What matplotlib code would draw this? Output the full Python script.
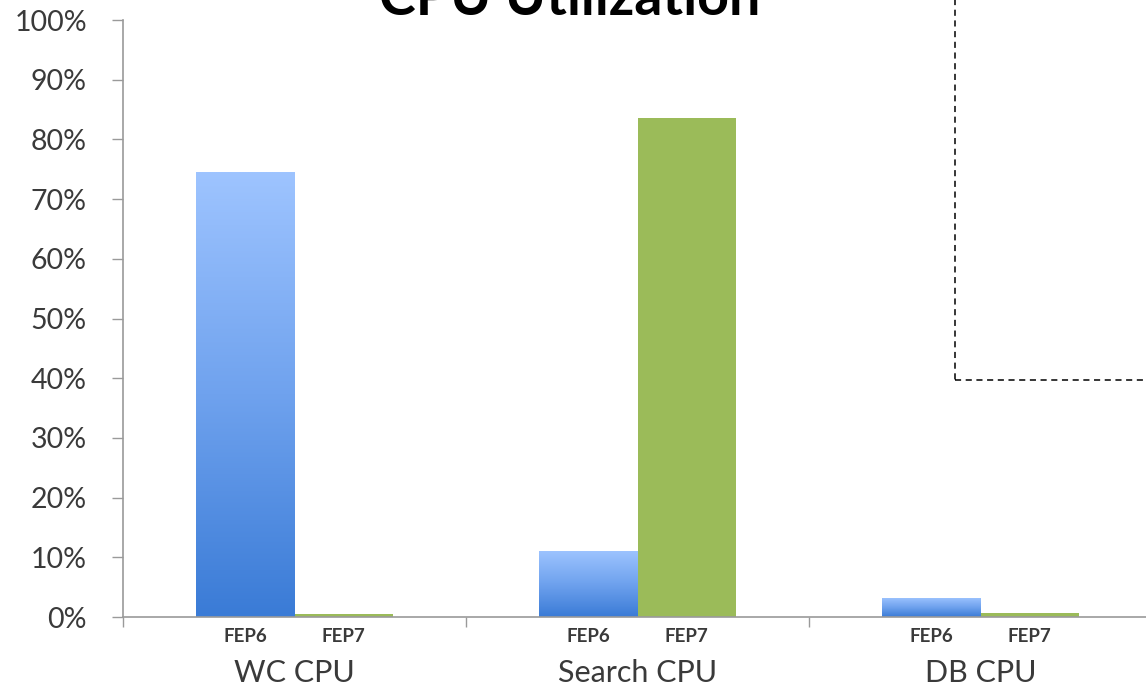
import matplotlib
matplotlib.use('agg')
import matplotlib.pyplot as plt
from matplotlib.patches import Rectangle
from matplotlib.colors import LinearSegmentedColormap
import matplotlib.transforms as mtransforms
import numpy as np

groups = ['WC CPU', 'Search CPU', 'DB CPU']
series = ['FEP6', 'FEP7']
fep6 = [74.5, 11.1, 3.2]
fep7 = [0.5, 83.6, 0.7]
yticks = np.arange(0, 101, 10)

plt.rcParams['font.family'] = ['Lato', 'DejaVu Sans']
text_col = '#3a3a3a'
axis_col = '#9a9a9a'

fig = plt.figure(figsize=(11.46, 6.89), dpi=100)
ax = fig.add_axes([123 / 1146, 72 / 689, 1029 / 1146, 597 / 689])

xs = np.arange(len(groups))
w = 0.287
blue = LinearSegmentedColormap.from_list('fep6', ['#3a7bd6', '#6fa2ee', '#9ec4ff'])

bars6 = ax.bar(xs - w / 2, fep6, w, color='none', edgecolor='none')
for b in bars6:
    x0, y0 = b.get_x(), b.get_y()
    grad = np.linspace(0, 1, 256).reshape(-1, 1)
    im = ax.imshow(grad, cmap=blue, origin='lower', aspect='auto',
                   extent=(x0, x0 + b.get_width(), y0, y0 + b.get_height()),
                   zorder=2)
    im.set_clip_path(b)
ax.bar(xs + w / 2, fep7, w, color='#9bbb59', edgecolor='none', zorder=2)

ax.set_xlim(-0.5, len(groups) - 0.5)
ax.set_ylim(0, 100)
ax.set_yticks(yticks)
ax.set_yticklabels(['{}%'.format(t) for t in yticks])
ax.tick_params(axis='y', length=8, width=1, color=axis_col, pad=18,
               labelsize=20.5, labelcolor=text_col)
ax.set_xticks(np.arange(len(groups) + 1) - 0.5)
ax.set_xticklabels([])
ax.tick_params(axis='x', length=7, width=1, color=axis_col)
for s in ['top', 'right']:
    ax.spines[s].set_visible(False)
for s in ['left', 'bottom']:
    ax.spines[s].set_color(axis_col)
    ax.spines[s].set_linewidth(1.2)

trans = mtransforms.blended_transform_factory(ax.transData, ax.transAxes)
off = mtransforms.ScaledTranslation(0, -20 / 100, fig.dpi_scale_trans)
off2 = mtransforms.ScaledTranslation(0, -56 / 100, fig.dpi_scale_trans)
for i, g in enumerate(groups):
    for j, name in enumerate(series):
        ax.text(xs[i] + (j - 0.5) * w, 0, name, transform=trans + off,
                ha='center', va='center', fontsize=13.5, fontweight='bold',
                color=text_col)
    ax.text(xs[i], 0, g, transform=trans + off2, ha='center', va='center',
            fontsize=22, color=text_col)

fig.text(570 / 1146, 1 - 15 / 689, 'CPU Utilization', ha='center',
         va='baseline', fontsize=40, fontweight='bold', color='black')

# legend frame sitting in the upper right corner
fig.patches.append(Rectangle((955 / 1146, 1 - 380 / 689), 0.3, 0.7,
                             transform=fig.transFigure, fill=False,
                             edgecolor='black', linestyle=(0, (4, 3)),
                             linewidth=1.1))

fig.savefig('out.png', dpi=100)
